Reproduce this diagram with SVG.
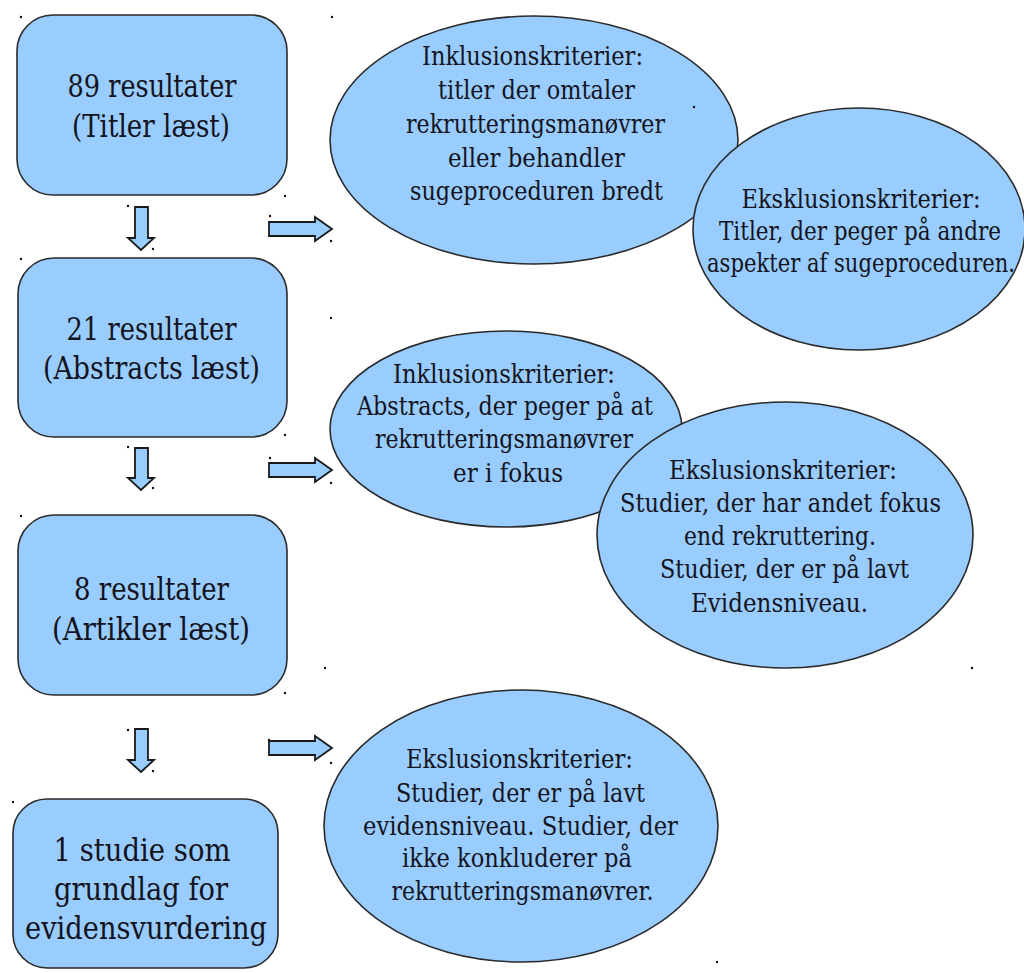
<svg xmlns="http://www.w3.org/2000/svg" width="1024" height="973" viewBox="0 0 1024 973">
<style>
.shape{fill:#99CCFF;stroke:#2a2a2a;stroke-width:1.6}
.arrow{fill:#99CCFF;stroke:#1a1a1a;stroke-width:1.8;stroke-linejoin:miter}
.bt{font-size:31px;fill:#141420;text-anchor:middle}
.et{font-size:26px;fill:#141420;text-anchor:middle}
.dot{fill:#111}
</style>
<rect width="1024" height="973" fill="#ffffff"/>
<g id="box1" font-family="DejaVu Serif, serif">
<rect class="shape" x="17" y="15" width="270" height="180" rx="36" ry="36"/>
<text class="bt" x="152" y="97" textLength="169" lengthAdjust="spacingAndGlyphs">89 resultater</text>
<text class="bt" x="151" y="137" textLength="158" lengthAdjust="spacingAndGlyphs">(Titler læst)</text>
</g>
<g id="box2" font-family="DejaVu Serif, serif">
<rect class="shape" x="18" y="258" width="269" height="179" rx="36" ry="36"/>
<text class="bt" x="151.5" y="340" textLength="170" lengthAdjust="spacingAndGlyphs">21 resultater</text>
<text class="bt" x="151.5" y="379" textLength="217" lengthAdjust="spacingAndGlyphs">(Abstracts læst)</text>
</g>
<g id="box3" font-family="DejaVu Serif, serif">
<rect class="shape" x="18" y="515" width="269" height="180" rx="36" ry="36"/>
<text class="bt" x="151.5" y="600" textLength="155" lengthAdjust="spacingAndGlyphs">8 resultater</text>
<text class="bt" x="151" y="640" textLength="198" lengthAdjust="spacingAndGlyphs">(Artikler læst)</text>
</g>
<g id="box4" font-family="DejaVu Serif, serif">
<rect class="shape" x="13" y="799" width="265" height="169" rx="34" ry="34"/>
<text class="bt" x="142" y="861" textLength="177" lengthAdjust="spacingAndGlyphs">1 studie som</text>
<text class="bt" x="141" y="900" textLength="174" lengthAdjust="spacingAndGlyphs">grundlag for</text>
<text class="bt" x="146" y="939" textLength="242" lengthAdjust="spacingAndGlyphs">evidensvurdering</text>
</g>
<g id="ell1" font-family="DejaVu Serif, serif">
<ellipse class="shape" cx="534" cy="140" rx="204" ry="124"/>
<text class="et" x="532.5" y="65" textLength="221" lengthAdjust="spacingAndGlyphs">Inklusionskriterier:</text>
<text class="et" x="536.5" y="99" textLength="197" lengthAdjust="spacingAndGlyphs">titler der omtaler</text>
<text class="et" x="535.5" y="133" textLength="259" lengthAdjust="spacingAndGlyphs">rekrutteringsmanøvrer</text>
<text class="et" x="536.5" y="167" textLength="177" lengthAdjust="spacingAndGlyphs">eller behandler</text>
<text class="et" x="536.5" y="200" textLength="253" lengthAdjust="spacingAndGlyphs">sugeproceduren bredt</text>
</g>
<g id="ell2" font-family="DejaVu Serif, serif">
<ellipse class="shape" cx="859" cy="229" rx="166" ry="121"/>
<text class="et" x="861" y="208" textLength="239" lengthAdjust="spacingAndGlyphs">Eksklusionskriterier:</text>
<text class="et" x="860" y="240" textLength="282" lengthAdjust="spacingAndGlyphs">Titler, der peger på andre</text>
<text class="et" x="861" y="272" textLength="308" lengthAdjust="spacingAndGlyphs">aspekter af sugeproceduren.</text>
</g>
<g id="ell3" font-family="DejaVu Serif, serif">
<ellipse class="shape" cx="506" cy="429" rx="176" ry="98"/>
<text class="et" x="504" y="383" textLength="222" lengthAdjust="spacingAndGlyphs">Inklusionskriterier:</text>
<text class="et" x="505" y="415" textLength="296" lengthAdjust="spacingAndGlyphs">Abstracts, der peger på at</text>
<text class="et" x="504" y="448" textLength="258" lengthAdjust="spacingAndGlyphs">rekrutteringsmanøvrer</text>
<text class="et" x="508" y="482" textLength="110" lengthAdjust="spacingAndGlyphs">er i fokus</text>
</g>
<g id="ell4" font-family="DejaVu Serif, serif">
<ellipse class="shape" cx="785" cy="535" rx="188" ry="133"/>
<text class="et" x="783" y="479" textLength="228" lengthAdjust="spacingAndGlyphs">Ekslusionskriterier:</text>
<text class="et" x="780.5" y="512" textLength="321" lengthAdjust="spacingAndGlyphs">Studier, der har andet fokus</text>
<text class="et" x="780" y="545" textLength="192" lengthAdjust="spacingAndGlyphs">end rekruttering.</text>
<text class="et" x="784.5" y="578" textLength="249" lengthAdjust="spacingAndGlyphs">Studier, der er på lavt</text>
<text class="et" x="779.5" y="612" textLength="177" lengthAdjust="spacingAndGlyphs">Evidensniveau.</text>
</g>
<g id="ell5" font-family="DejaVu Serif, serif">
<ellipse class="shape" cx="521" cy="826" rx="197" ry="136"/>
<text class="et" x="519.5" y="768" textLength="227" lengthAdjust="spacingAndGlyphs">Ekslusionskriterier:</text>
<text class="et" x="520.5" y="802" textLength="249" lengthAdjust="spacingAndGlyphs">Studier, der er på lavt</text>
<text class="et" x="520.5" y="835" textLength="315" lengthAdjust="spacingAndGlyphs">evidensniveau. Studier, der</text>
<text class="et" x="517" y="867" textLength="230" lengthAdjust="spacingAndGlyphs">ikke konkluderer på</text>
<text class="et" x="522.5" y="900" textLength="262" lengthAdjust="spacingAndGlyphs">rekrutteringsmanøvrer.</text>
</g>
<g id="connectors">
<path class="arrow" d="M135,207 H148 V238 H154 L141,250 L128,238 H135 Z"/>
<path class="arrow" d="M135,448 H148 V478 H154 L141,490 L128,478 H135 Z"/>
<path class="arrow" d="M135,729 H148 V760 H154 L141,772 L128,760 H135 Z"/>
<path class="arrow" d="M269,222 H315 V217 L332,229 L315,241 V236 H269 Z"/>
<path class="arrow" d="M269,463 H315 V458 L332,470 L315,482 V477 H269 Z"/>
<path class="arrow" d="M269,741 H315 V736 L332,748 L315,760 V755 H269 Z"/>
</g>
<g id="handles">
<circle class="dot" cx="21" cy="17" r="1.2"/>
<circle class="dot" cx="332" cy="17" r="1.2"/>
<circle class="dot" cx="285" cy="196" r="1.2"/>
<circle class="dot" cx="128" cy="206" r="1.2"/>
<circle class="dot" cx="153" cy="249" r="1.2"/>
<circle class="dot" cx="270" cy="216" r="1.2"/>
<circle class="dot" cx="331" cy="241" r="1.2"/>
<circle class="dot" cx="694" cy="107" r="1.2"/>
<circle class="dot" cx="21" cy="259" r="1.2"/>
<circle class="dot" cx="331" cy="318" r="1.2"/>
<circle class="dot" cx="285" cy="435" r="1.2"/>
<circle class="dot" cx="128" cy="447" r="1.2"/>
<circle class="dot" cx="153" cy="488" r="1.2"/>
<circle class="dot" cx="270" cy="458" r="1.2"/>
<circle class="dot" cx="331" cy="483" r="1.2"/>
<circle class="dot" cx="21" cy="516" r="1.2"/>
<circle class="dot" cx="325" cy="668" r="1.2"/>
<circle class="dot" cx="285" cy="693" r="1.2"/>
<circle class="dot" cx="128" cy="730" r="1.2"/>
<circle class="dot" cx="153" cy="771" r="1.2"/>
<circle class="dot" cx="269" cy="740" r="1.2"/>
<circle class="dot" cx="331" cy="763" r="1.2"/>
<circle class="dot" cx="972" cy="668" r="1.2"/>
<circle class="dot" cx="13" cy="802" r="1.2"/>
<circle class="dot" cx="717" cy="962" r="1.2"/>
</g>
</svg>
